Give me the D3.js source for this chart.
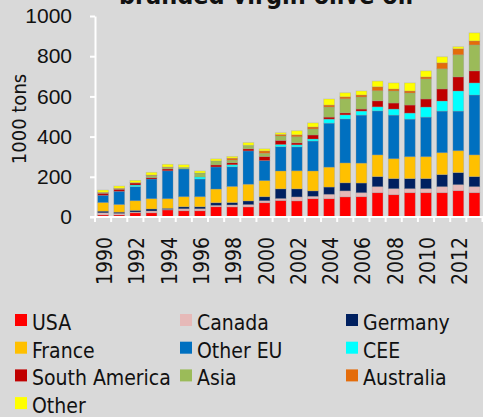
<!DOCTYPE html>
<html lang="en">
<head>
  <meta charset="UTF-8">
  <title>Branded virgin olive oil</title>
  <script src="https://d3js.org/d3.v7.min.js"></script>
  <style>
    html, body {
      margin: 0;
      padding: 0;
      background: #d9d9d9;
    }
    svg {
      font-family: "DejaVu Sans Condensed", "DejaVu Sans", sans-serif;
      display: block;
    }
    .axis text {
      font-size: 21px;
      fill: #111;
    }
    .axis path, .axis line {
      stroke: #fff;
      stroke-width: 2;
    }
    .legend text {
      font-size: 21px;
      fill: #111;
    }
  </style>
</head>
<body>
  <svg></svg>
  <script>
    const years = [1990, 1991, 1992, 1993, 1994, 1995, 1996, 1997, 1998, 1999, 2000, 2001,
                   2002, 2003, 2004, 2005, 2006, 2007, 2008, 2009, 2010, 2011, 2012, 2013];
    const yearLabels = [1990, 1992, 1994, 1996, 1998, 2000, 2002, 2004, 2006, 2008, 2010, 2012];
    const yTicks = [0, 200, 400, 600, 800, 1000];

    const regions = ['USA', 'Canada', 'Germany', 'France', 'Other EU', 'CEE',
                     'South America', 'Asia', 'Australia', 'Other'];
    const colors = ['#ff0000', '#e6b9b8', '#002060', '#ffc000', '#0070c0', '#00ffff',
                    '#c00000', '#9bbb59', '#e46c0a', '#ffff00'];

    // 1000 tons per year
    const usa       = [10, 10, 21, 21, 35, 31, 31, 51, 50, 50, 71, 82, 80, 91, 91, 100, 101, 121, 111, 121, 121, 121, 131, 121];
    const canada    = [11, 8, 4, 9, 3, 10, 10, 7, 10, 12, 10, 10, 20, 12, 22, 30, 20, 30, 30, 20, 20, 30, 30, 30];
    const germany   = [8, 6, 8, 10, 5, 10, 10, 13, 12, 18, 20, 48, 40, 27, 36, 40, 48, 50, 50, 50, 50, 60, 60, 50];
    const france    = [43, 38, 48, 51, 48, 50, 50, 68, 80, 83, 80, 89, 90, 99, 99, 99, 99, 108, 99, 109, 109, 109, 109, 108];
    const otherEU   = [36, 66, 70, 98, 139, 138, 88, 110, 98, 166, 100, 121, 119, 149, 219, 219, 239, 219, 217, 187, 197, 207, 197, 298];
    const cee       = [0, 0, 8, 0, 0, 0, 10, 0, 10, 0, 0, 11, 10, 10, 20, 20, 20, 20, 30, 30, 50, 50, 100, 60];
    const southAm   = [10, 10, 10, 7, 9, 0, 0, 10, 10, 10, 20, 20, 10, 20, 10, 10, 10, 30, 30, 40, 40, 60, 70, 60];
    const asia      = [3, 3, 0, 11, 8, 8, 20, 20, 13, 18, 16, 22, 30, 30, 50, 70, 60, 50, 60, 60, 100, 100, 110, 129];
    const australia = [2, 2, 2, 2, 2, 0, 0, 0, 10, 0, 12, 8, 10, 10, 10, 10, 10, 20, 10, 10, 10, 30, 30, 20];
    const other     = [11, 11, 11, 13, 13, 13, 10, 10, 8, 13, 10, 8, 20, 20, 30, 20, 20, 28, 30, 40, 30, 30, 10, 40];

    const values = [usa, canada, germany, france, otherEU, cee, southAm, asia, australia, other];

    const table = years.map((yr, i) => {
      const row = { year: yr };
      regions.forEach((r, k) => { row[r] = values[k][i]; });
      return row;
    });

    const W = 483, H = 417;
    const svg = d3.select('svg').attr('width', W).attr('height', H);

    const x = d3.scaleBand()
        .domain(years)
        .range([95, 482.5])
        .paddingInner(1 / 3)
        .paddingOuter(1 / 6);

    const y = d3.scaleLinear()
        .domain([0, 1000])
        .range([217, 16]);

    const color = d3.scaleOrdinal().domain(regions).range(colors);

    const stacked = d3.stack().keys(regions)(table);

    // title, mostly cut off at the top like the original
    svg.append('text')
        .attr('x', 266)
        .attr('y', 4)
        .attr('text-anchor', 'middle')
        .style('font-size', '25px')
        .style('font-weight', 'bold')
        .style('fill', '#111')
        .text('branded virgin olive oil');

    svg.append('g')
      .selectAll('g')
      .data(stacked)
      .join('g')
        .attr('fill', d => color(d.key))
      .selectAll('rect')
      .data(d => d)
      .join('rect')
        .attr('x', d => x(d.data.year))
        .attr('y', d => y(d[1]))
        .attr('width', x.bandwidth())
        .attr('height', d => y(d[0]) - y(d[1]))
        .attr('stroke', 'rgba(150,150,150,0.35)')
        .attr('stroke-width', 0.8);

    // y axis
    svg.append('g')
        .attr('class', 'axis')
        .attr('transform', 'translate(95,0)')
        .call(d3.axisLeft(y).tickValues(yTicks).tickFormat(d3.format('d'))
          .tickSize(5).tickSizeOuter(0).tickPadding(18));

    // x axis: line, boundary ticks, labels every other year
    const step = x.step();
    const xAxis = svg.append('g').attr('class', 'axis');
    xAxis.append('line')
        .attr('x1', 90).attr('x2', W)
        .attr('y1', y(0)).attr('y2', y(0));
    const bounds = years.map(d => x(d) - (step - x.bandwidth()) / 2);
    bounds.push(x(years[years.length - 1]) + x.bandwidth() + (step - x.bandwidth()) / 2);
    xAxis.selectAll('.tick-mark')
      .data(bounds)
      .join('line')
        .attr('class', 'tick-mark')
        .attr('x1', d => d).attr('x2', d => d)
        .attr('y1', y(0)).attr('y2', y(0) + 5);
    xAxis.selectAll('.xlab')
      .data(yearLabels)
      .join('text')
        .attr('class', 'xlab')
        .attr('transform', d => `translate(${x(d) + x.bandwidth() / 2},237) rotate(-90)`)
        .attr('text-anchor', 'end')
        .attr('dy', '0.43em')
        .text(d => d);

    svg.append('text')
        .attr('transform', 'translate(19,119) rotate(-90)')
        .attr('text-anchor', 'middle')
        .attr('dy', '0.35em')
        .style('font-size', '20px')
        .style('fill', '#111')
        .text('1000 tons');

    // legend, three columns
    const colX = [15, 180, 346];
    const legend = svg.append('g').attr('class', 'legend');
    const item = legend.selectAll('g')
      .data(regions)
      .join('g')
        .attr('transform', (d, i) => `translate(${colX[i % 3]},${320 + Math.floor(i / 3) * 27.7})`);
    item.append('rect')
        .attr('x', 0).attr('y', -6)
        .attr('width', 12).attr('height', 12)
        .attr('fill', d => color(d));
    item.append('text')
        .attr('x', 17)
        .attr('y', 10)
        .text(d => d);
  </script>
</body>
</html>
